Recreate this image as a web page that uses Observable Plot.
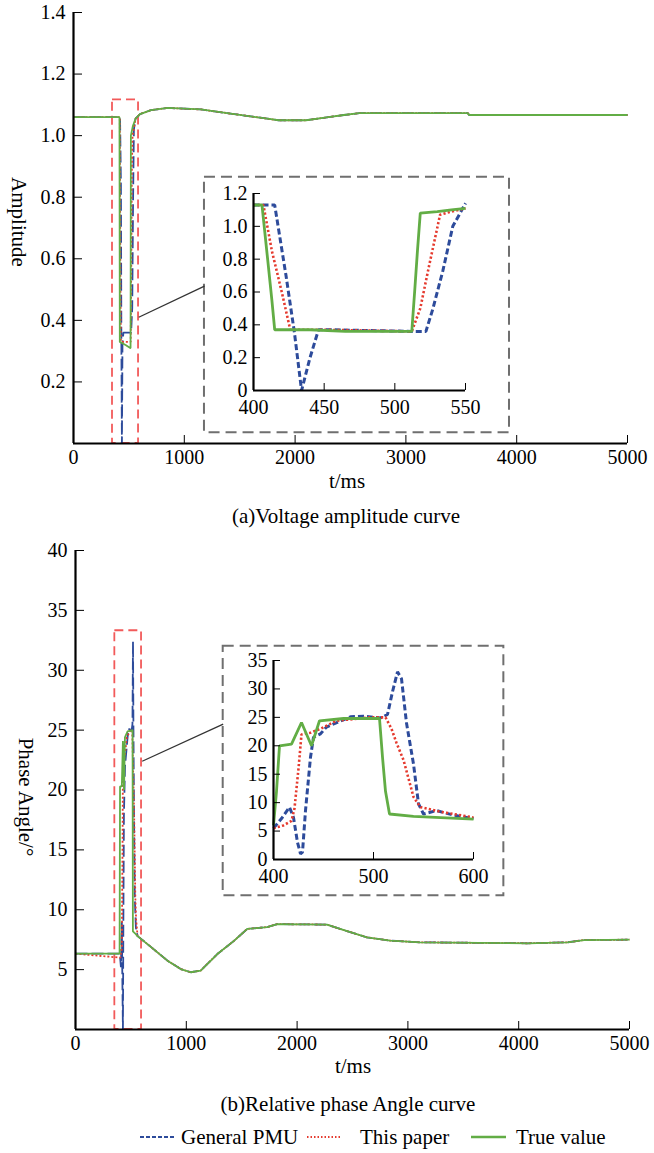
<!DOCTYPE html>
<html><head><meta charset="utf-8">
<script src="https://cdn.jsdelivr.net/npm/d3@7"></script>
<script src="https://cdn.jsdelivr.net/npm/@observablehq/plot@0.6"></script>
<style>
body{margin:0;background:#fff;}
#wrap{position:relative;width:654px;height:1153px;font-family:"Liberation Serif","Times New Roman",serif;color:#000;overflow:hidden;}
#wrap svg{background:transparent !important;overflow:visible !important;}
.txt{position:absolute;transform:translate(-50%,-50%);white-space:nowrap;font-size:21px;line-height:1;}
.ylab{position:absolute;writing-mode:vertical-rl;transform:translate(-50%,-50%);white-space:nowrap;font-size:21px;line-height:1;}
.leg{position:absolute;font-size:21px;line-height:1;white-space:nowrap;transform:translateY(-50%);}
</style></head><body><div id="wrap"></div>
<script>
// ---------- data ----------
const seriesNames = ["General PMU", "This paper", "True value"];
const xTicks = [0, 1000, 2000, 3000, 4000, 5000];
const ampTicks = [0.2, 0.4, 0.6, 0.8, 1.0, 1.2, 1.4];
const phaseTicks = [5, 10, 15, 20, 25, 30, 35, 40];
const ampInsetXTicks = [400, 450, 500, 550];
const ampInsetYTicks = [0, 0.2, 0.4, 0.6, 0.8, 1.0, 1.2];
const phaseInsetXTicks = [400, 500, 600];
const phaseInsetYTicks = [0, 5, 10, 15, 20, 25, 30, 35];

// (a) voltage amplitude, full range: common post-fault part
const ampTail = [[600,1.07],[700,1.083],[850,1.09],[1150,1.085],[1450,1.07],[1750,1.055],[1850,1.05],[2100,1.05],[2300,1.06],[2440,1.067],[2580,1.073],[3560,1.073],[3570,1.067],[5000,1.067]];
const ampPmuFault   = [[0,1.06],[420,1.06],[428,0.84],[432,0.33],[437,0],[442,0.32],[450,0.36],[520,0.36],[530,0.44],[538,0.8],[545,1.02],[560,1.055]];
const ampPaperFault = [[0,1.06],[418,1.06],[424,0.48],[428,0.33],[516,0.33],[522,0.6],[527,0.9],[533,1.0],[560,1.055]];
const ampTrueFault  = [[0,1.06],[415,1.06],[418,0.33],[470,0.32],[512,0.31],[515,0.31],[518,1.0],[535,1.03],[560,1.055]];
// (a) zoomed inset 400-550 ms
const ampPmuZoom   = [[400,1.13],[415,1.13],[423,0.7],[429,0.35],[434,0.0],[440,0.2],[446,0.37],[455,0.37],[512,0.36],[522,0.36],[527,0.5],[534,0.73],[541,1.0],[550,1.14]];
const ampPaperZoom = [[400,1.13],[407,1.13],[413,0.85],[420,0.6],[426,0.37],[450,0.37],[512,0.36],[518,0.5],[524,0.75],[532,1.07],[540,1.09],[550,1.11]];
const ampTrueZoom  = [[400,1.13],[406,1.13],[410,0.8],[413,0.55],[415,0.37],[440,0.37],[465,0.36],[512,0.36],[514,0.6],[516,0.85],[518,1.08],[530,1.09],[540,1.1],[550,1.11]];
// (a) annotations (data units)
const ampZoomBox = [{t1:352, t2:587, v1:0, v2:1.116}];
const ampInsetBox = [{t1:1182, t2:3935, v1:0.035, v2:0.865}];
const ampConnector = [{t1:589, v1:0.41, t2:1182, v2:0.511}];

// (b) relative phase angle, full range
const phaseTail = [[560,7.8],[680,6.9],[830,5.75],[950,5.05],[1040,4.78],[1130,4.92],[1280,6.3],[1430,7.4],[1550,8.4],[1730,8.55],[1820,8.8],[2270,8.76],[2360,8.48],[2630,7.7],[2840,7.42],[3110,7.28],[4080,7.2],[4440,7.28],[4590,7.47],[5000,7.5]];
const phasePmuFault   = [[0,6.33],[400,6.33],[410,5.2],[418,9],[422,5],[428,0],[432,9],[437,18],[447,22],[477,25.1],[507,25],[514,25.5],[519,32.4],[523,25],[528,18],[535,11],[545,8.5]];
const phasePaperFault = [[0,6.33],[405,6],[418,6.8],[425,16],[428,22],[447,23],[463,24.4],[497,25],[512,25],[523,20.5],[530,17.5],[540,11],[547,9.2]];
const phaseTrueFault  = [[0,6.33],[398,6.33],[402,20.3],[418,20.3],[428,24.1],[438,20],[446,24.4],[470,24.9],[515,25],[518,8.2],[540,8]];
// (b) zoomed inset 400-600 ms
const phasePmuZoom   = [[400,5.5],[408,7.2],[416,9.2],[420,7.4],[424,3],[427,1],[429,1.3],[432,8.6],[437,18],[440,21.5],[447,22.1],[453,23.3],[477,25.1],[490,25.2],[507,24.9],[514,25.5],[519,29.5],[524,33],[528,31.8],[533,24],[540,16.8],[545,9.8],[550,8],[563,8.6],[580,7.8],[600,7.2]];
const phasePaperZoom = [[400,5.5],[410,6],[418,6.8],[421,9],[425,16],[428,22],[437,22.3],[447,23],[463,24.4],[497,25],[512,25],[518,23],[523,20.5],[530,17.5],[540,11],[547,9.2],[570,8.3],[600,7.4]];
const phaseTrueZoom  = [[400,6],[403,12],[406,20],[418,20.3],[428,24.1],[438,20],[446,24.4],[470,24.8],[506,24.8],[509,18],[512,12],[516,8],[540,7.6],[600,7.1]];
// (b) annotations
const phaseZoomBox = [{t1:355, t2:596, v1:0, v2:33.3}];
const phaseInsetBox = [{t1:1333, t2:3866, v1:11.17, v2:32.0}];
const phaseConnector = [{t1:602, v1:22.4, t2:1333, v2:25.5}];

// ---------- styling ----------
const COL = {pmu:"#2d4b9b", paper:"#e53a2e", truth:"#62ad45"};
const SERIF = "'Liberation Serif', 'Times New Roman', serif";
const toRows = pts => pts.map(([t, v]) => ({t, v}));
const fmtX = d => String(d);

function serifize(svg) {
  svg.setAttribute("font-family", SERIF);
  svg.setAttribute("font-size", "20");
  svg.style.setProperty("font-family", SERIF, "important");
  svg.style.setProperty("font-size", "20px", "important");
  svg.style.setProperty("background", "transparent", "important");
  svg.style.setProperty("overflow", "visible", "important");
  svg.querySelectorAll("g, text").forEach(el => {
    if (el.hasAttribute("font-family")) el.setAttribute("font-family", SERIF);
    if (el.hasAttribute("font-variant")) el.removeAttribute("font-variant");
  });
  svg.querySelectorAll("text").forEach(el => {
    el.setAttribute("font-family", SERIF);
    el.style.setProperty("font-family", SERIF, "important");
    el.style.setProperty("font-size", "20px", "important");
  });
  return svg;
}

function mainChart({pmu, paper, truth, tail, yDomain, yTicks, yFmt, zoomBox, insetBox, connector, h, mt, ml, mr}) {
  return serifize(Plot.plot({
    width:654, height:h, marginLeft:ml, marginRight:mr, marginTop:mt, marginBottom:52,
    x:{domain:[0,5000]}, y:{domain:yDomain},
    marks:[
      Plot.rect(zoomBox, {x1:"t1", x2:"t2", y1:"v1", y2:"v2", fill:"none", stroke:"#f25a5a", strokeWidth:1.8, strokeDasharray:"9,5"}),
      Plot.rect(insetBox, {x1:"t1", x2:"t2", y1:"v1", y2:"v2", fill:"none", stroke:"#6f6f6f", strokeWidth:2, strokeDasharray:"11,6"}),
      Plot.link(connector, {x1:"t1", y1:"v1", x2:"t2", y2:"v2", stroke:"#333", strokeWidth:1.3}),
      Plot.line(toRows(pmu.concat(tail)), {x:"t", y:"v", stroke:COL.pmu, strokeWidth:1.8, strokeDasharray:"12,4", strokeLinecap:"butt", strokeLinejoin:"miter"}),
      Plot.line(toRows(paper.concat(tail)), {x:"t", y:"v", stroke:COL.paper, strokeWidth:1.8, strokeDasharray:"2,2", strokeLinecap:"butt", strokeLinejoin:"miter"}),
      Plot.line(toRows(truth.concat(tail)), {x:"t", y:"v", stroke:COL.truth, strokeWidth:1.8, strokeLinecap:"butt", strokeLinejoin:"miter"}),
      Plot.axisX(xTicks, {tickSize:-8, tickPadding:14, tickFormat:fmtX, label:null}),
      Plot.axisY(yTicks, {tickSize:-9, tickPadding:17, tickFormat:yFmt, label:null}),
      Plot.ruleX([0], {stroke:"#000", strokeWidth:2.2}),
      Plot.ruleY([yDomain[0]], {stroke:"#000", strokeWidth:2.2})
    ]
  }));
}

function insetChart({pmu, paper, truth, xDomain, yDomain, xT, yT, yFmt, w, h, ml, mr, mt, mb}) {
  return serifize(Plot.plot({
    width:w, height:h, marginLeft:ml, marginRight:mr, marginTop:mt, marginBottom:mb,
    x:{domain:xDomain}, y:{domain:yDomain},
    marks:[
      Plot.line(toRows(pmu), {x:"t", y:"v", stroke:COL.pmu, strokeWidth:3, strokeDasharray:"6,3", strokeLinecap:"butt", strokeLinejoin:"miter"}),
      Plot.line(toRows(paper), {x:"t", y:"v", stroke:COL.paper, strokeWidth:2.6, strokeDasharray:"2.2,2.2", strokeLinecap:"butt", strokeLinejoin:"miter"}),
      Plot.line(toRows(truth), {x:"t", y:"v", stroke:COL.truth, strokeWidth:2.8, strokeLinecap:"butt", strokeLinejoin:"miter"}),
      Plot.axisX(xT, {tickSize:-7, tickPadding:16, tickFormat:fmtX, label:null}),
      Plot.axisY(yT, {tickSize:-7, tickPadding:13, tickFormat:yFmt, label:null}),
      Plot.ruleX([xDomain[0]], {stroke:"#000", strokeWidth:2.2}),
      Plot.ruleY([yDomain[0]], {stroke:"#000", strokeWidth:2.2})
    ]
  }));
}

const wrap = document.getElementById("wrap");
function place(el, left, top) { el.style.position = "absolute"; el.style.left = left + "px"; el.style.top = top + "px"; wrap.appendChild(el); return el; }
function text(cls, str, x, y) { const d = document.createElement("div"); d.className = cls; d.textContent = str; d.style.left = x + "px"; d.style.top = y + "px"; wrap.appendChild(d); return d; }

// (a)
place(mainChart({pmu:ampPmuFault, paper:ampPaperFault, truth:ampTrueFault, tail:ampTail,
  yDomain:[0,1.4], yTicks:ampTicks, yFmt:d3.format(".1f"),
  zoomBox:ampZoomBox, insetBox:ampInsetBox, connector:ampConnector, h:495, mt:12, ml:73, mr:27}), 0, 0);
place(insetChart({pmu:ampPmuZoom, paper:ampPaperZoom, truth:ampTrueZoom, xDomain:[400,550], yDomain:[0,1.2],
  xT:ampInsetXTicks, yT:ampInsetYTicks, yFmt:d => d === 0 ? "0" : d.toFixed(1),
  w:300, h:255, ml:50, mr:38, mt:18, mb:40}), 203, 175);
text("ylab", "Amplitude", 18, 222);
text("txt", "t/ms", 347, 481);
text("txt", "(a)Voltage amplitude curve", 346, 516);

// (b)
place(mainChart({pmu:phasePmuFault, paper:phasePaperFault, truth:phaseTrueFault, tail:phaseTail,
  yDomain:[0,40], yTicks:phaseTicks, yFmt:fmtX,
  zoomBox:phaseZoomBox, insetBox:phaseInsetBox, connector:phaseConnector, h:541, mt:10, ml:75, mr:25}), 0, 540);
place(insetChart({pmu:phasePmuZoom, paper:phasePaperZoom, truth:phaseTrueZoom, xDomain:[400,600], yDomain:[0,35],
  xT:phaseInsetXTicks, yT:phaseInsetYTicks, yFmt:fmtX,
  w:278, h:247, ml:49, mr:29, mt:13, mb:35}), 224, 647);
text("ylab", "Phase Angle/°", 25, 797);
text("txt", "t/ms", 353, 1066);
text("txt", "(b)Relative phase Angle curve", 348, 1104);

// legend
const legendItems = [
  {name:seriesNames[0], color:COL.pmu, dash:"4,2", w:1.8, sx:140, tx:181},
  {name:seriesNames[1], color:COL.paper, dash:"1.5,2", w:1.8, sx:307, tx:360},
  {name:seriesNames[2], color:COL.truth, dash:null, w:2.6, sx:471, tx:516}
];
for (const it of legendItems) {
  const s = document.createElementNS("http://www.w3.org/2000/svg", "svg");
  s.setAttribute("width", 35); s.setAttribute("height", 8);
  const l = document.createElementNS("http://www.w3.org/2000/svg", "line");
  l.setAttribute("x1", 0); l.setAttribute("x2", 35); l.setAttribute("y1", 4); l.setAttribute("y2", 4);
  l.setAttribute("stroke", it.color); l.setAttribute("stroke-width", it.w);
  if (it.dash) l.setAttribute("stroke-dasharray", it.dash);
  s.appendChild(l);
  place(s, it.sx, 1133);
  const d = document.createElement("div"); d.className = "leg"; d.textContent = it.name;
  d.style.left = it.tx + "px"; d.style.top = "1137px"; wrap.appendChild(d);
}
</script></body></html>
